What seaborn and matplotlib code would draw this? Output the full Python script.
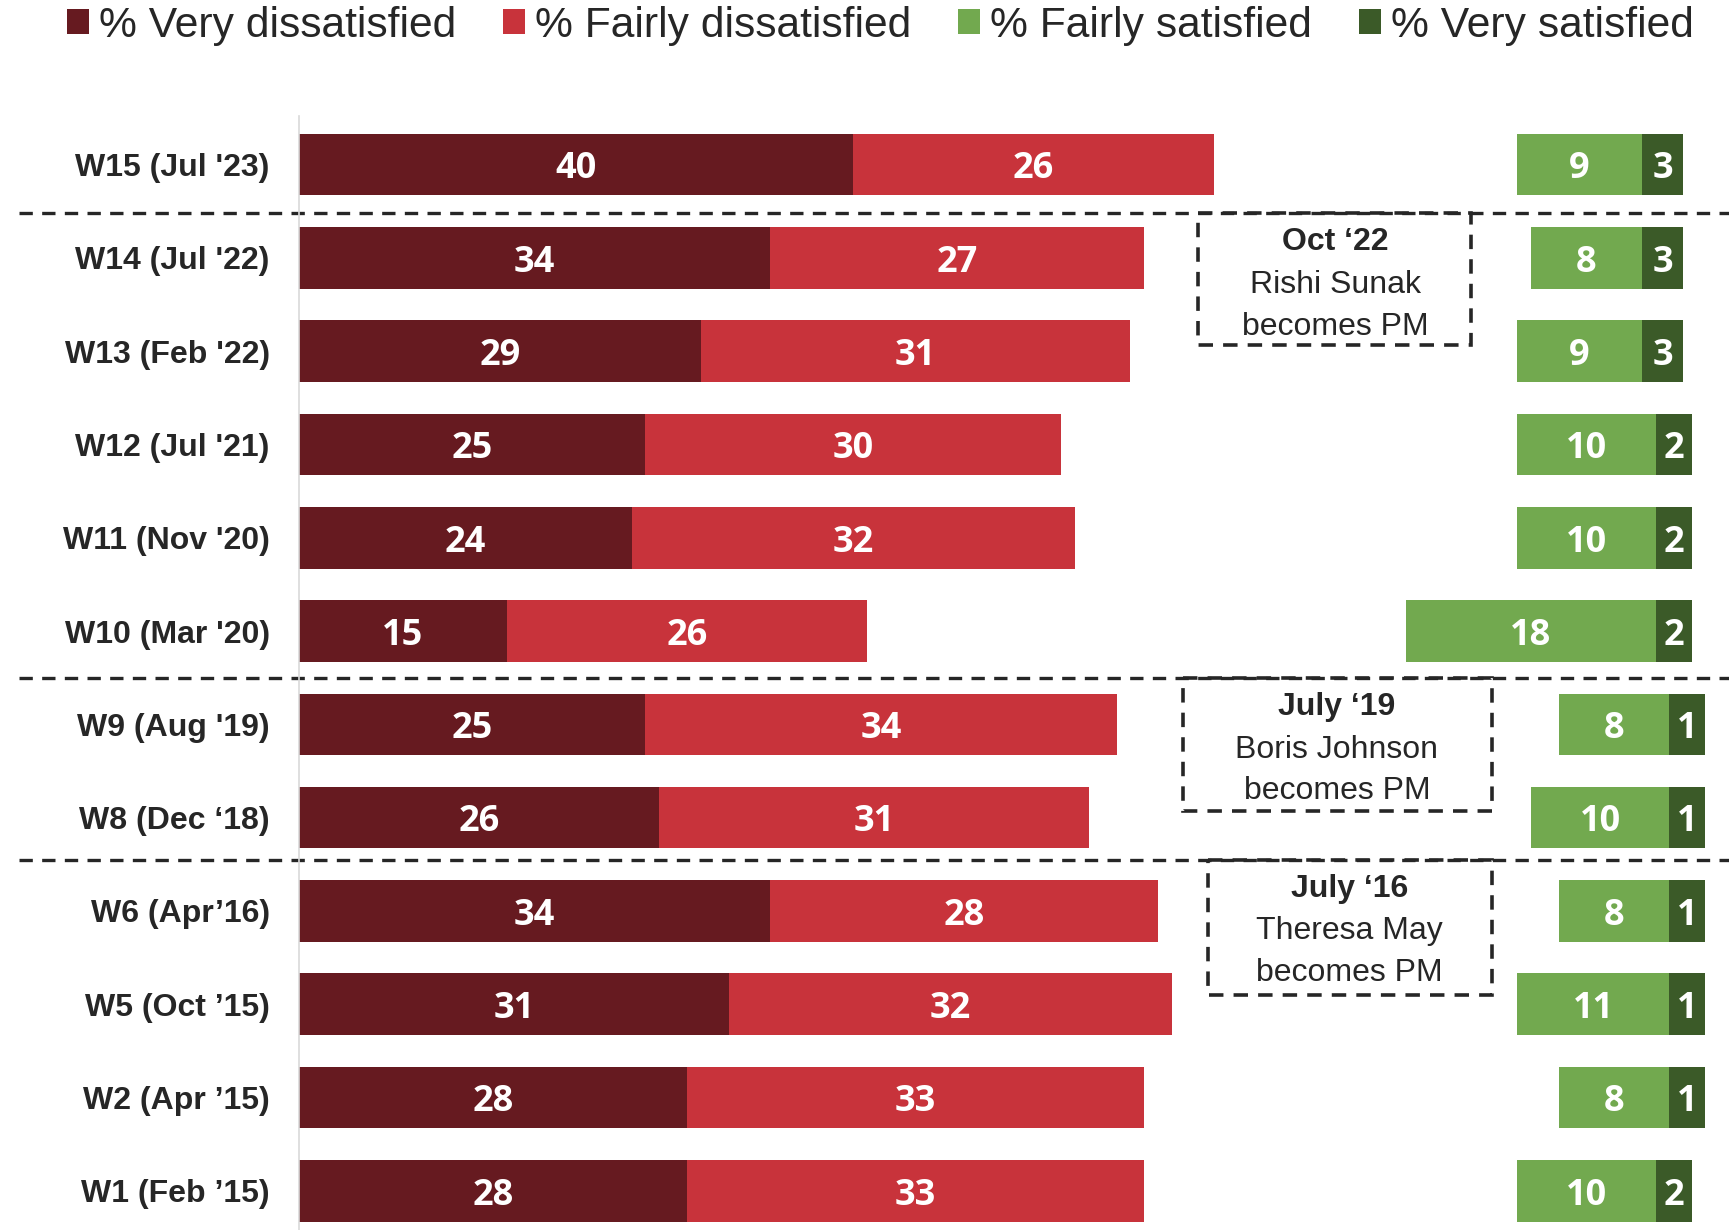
import numpy as np
import pandas as pd
import matplotlib
matplotlib.use("Agg")
import matplotlib.pyplot as plt
import seaborn as sns
from matplotlib.patches import Patch, Rectangle

# Wave labels, top to bottom
waves = ["W15 (Jul '23)", "W14 (Jul '22)", "W13 (Feb '22)", "W12 (Jul '21)",
         "W11 (Nov '20)", "W10 (Mar '20)", "W9 (Aug '19)", "W8 (Dec \u201818)",
         "W6 (Apr\u201916)", "W5 (Oct \u201915)", "W2 (Apr \u201915)", "W1 (Feb \u201915)"]

very_dissatisfied = [40, 34, 29, 25, 24, 15, 25, 26, 34, 31, 28, 28]
fairly_dissatisfied = [26, 27, 31, 30, 32, 26, 34, 31, 28, 32, 33, 33]
fairly_satisfied = [9, 8, 9, 10, 10, 18, 8, 10, 8, 11, 8, 10]
very_satisfied = [3, 3, 3, 2, 2, 2, 1, 1, 1, 1, 1, 2]

legend_labels = ["% Very dissatisfied", "% Fairly dissatisfied",
                 "% Fairly satisfied", "% Very satisfied"]

# PM change notes
pm_titles = ["Oct \u201822", "July \u201819", "July \u201816"]
pm_names = ["Rishi Sunak", "Boris Johnson", "Theresa May"]

colors = ["#661a20", "#c8333b", "#72a94f", "#3b5a28"]
text_col = "#262626"

sns.set_style("white")
plt.rcParams["font.family"] = ["Liberation Sans", "DejaVu Sans"]

df = pd.DataFrame({
    "wave": waves,
    "vd": very_dissatisfied,
    "fd": fairly_dissatisfied,
    "fs": fairly_satisfied,
    "vs": very_satisfied,
})

right_edge = 99.9    # satisfied bars are right-aligned here
min_dark = 2.6       # keep the tiny dark segment wide enough for its label

fig = plt.figure(figsize=(17.29, 12.30), dpi=100)
ax = fig.add_axes([299 / 1729, 0, 1 - 299 / 1729, 1 - 116 / 1230])

common = dict(y="wave", orient="h", width=0.66, saturation=1,
              errorbar=None, linewidth=0, ax=ax)
sns.barplot(data=df, x="vd", color=colors[0], **common)
sns.barplot(data=df, x="fd", color=colors[1], left=df["vd"].values, **common)
sns.barplot(data=df, x="fs", color=colors[2],
            left=(right_edge - df["vs"] - df["fs"]).values, **common)
sns.barplot(data=df, x=np.maximum(df["vs"], min_dark), color=colors[3],
            left=(right_edge - df["vs"]).values, **common)

label_font = dict(family=["Open Sans", "DejaVu Sans"], weight="bold",
                  size=26, color="white")
for cont, col in zip(ax.containers, ["vd", "fd", "fs", "vs"]):
    anns = ax.bar_label(cont, labels=[str(v) for v in df[col]],
                        label_type="center", **label_font)
    for a in anns:
        a.xyann = (0, -3.5)

ax.set_xlim(0, 103.2)
ax.set_ylim(11.42, -0.52)
ax.set_xlabel("")
ax.set_ylabel("")
ax.set_xticks([])
ax.tick_params(axis="y", length=0, pad=21)
for lab in ax.get_yticklabels():
    lab.set_fontsize(23)
    lab.set_fontweight("bold")
    lab.set_color(text_col)

for side in ["top", "right", "bottom"]:
    ax.spines[side].set_visible(False)
ax.spines["left"].set_color("#d9d9d9")
ax.spines["left"].set_linewidth(1.2)

# dashed separators between PM periods
trans = ax.get_yaxis_transform()
for yline in [0.52, 5.5, 7.45]:
    ax.plot([-0.196, 1.0], [yline, yline], transform=trans, color=text_col,
            lw=2.4, linestyle=(0, (4, 2.8)), clip_on=False, zorder=1)

# PM change boxes
boxes = [(64.9, 84.6, 0.52, 1.93, 74.8),
         (63.8, 86.1, 5.5, 6.93, 74.9),
         (65.6, 86.1, 7.45, 8.9, 75.8)]
for (x0, x1, y0, y1, xc), title, name in zip(boxes, pm_titles, pm_names):
    ax.add_patch(Rectangle((x0, y0), x1 - x0, y1 - y0, fill=False,
                           edgecolor=text_col, lw=2.6,
                           linestyle=(0, (4, 2.8)), zorder=3))
    ax.text(xc, y0 + 0.31, title, ha="center", va="center", fontsize=23,
            fontweight="bold", color=text_col)
    ax.text(xc, y0 + 0.77, name, ha="center", va="center", fontsize=23,
            color=text_col)
    ax.text(xc, y0 + 1.22, "becomes PM", ha="center", va="center",
            fontsize=23, color=text_col)

handles = [Patch(facecolor=c, edgecolor="none") for c in colors]
fig.legend(handles, legend_labels, loc="center", ncol=4,
           bbox_to_anchor=(0.509, 1 - 26 / 1230), frameon=False, fontsize=30.7,
           handlelength=0.53, handleheight=0.53, handletextpad=0.22,
           columnspacing=1.1, labelcolor=text_col, borderaxespad=0)

fig.savefig("out.png", dpi=100)
